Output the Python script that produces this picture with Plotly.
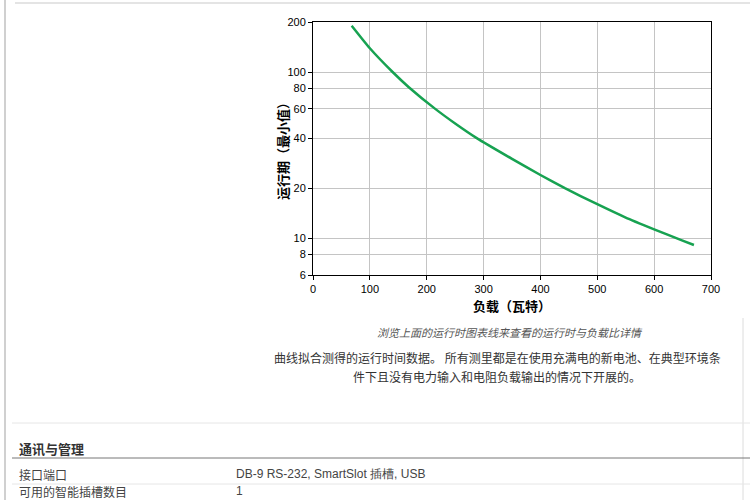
import plotly.graph_objects as go

# ---- data ----
load_w = [68, 100, 140, 168, 215, 250, 288, 350, 400, 443, 500, 550, 600, 650, 670]
runtime_min = [190, 139, 100, 81.3, 60, 49.0, 40, 30, 24.0, 20, 16.0, 13.3, 11.3, 9.66, 9.1]

x_ticks = [0, 100, 200, 300, 400, 500, 600, 700]
y_ticks = [6, 8, 10, 20, 40, 60, 80, 100, 200]

x_title = "负载（瓦特）"
y_title = "运行期（最小值）"
caption = "浏览上面的运行时图表线来查看的运行时与负载比详情"
note_1 = "曲线拟合测得的运行时间数据。 所有测里都是在使用充满电的新电池、在典型环境条"
note_2 = "件下且没有电力输入和电阻负载输出的情况下开展的。"
section_title = "通讯与管理"
rows = [("接口端口", "DB-9 RS-232, SmartSlot 插槽, USB"), ("可用的智能插槽数目", "1")]

# ---- layout geometry (pixels) ----
W, H = 750, 500
L, R, T, B = 313, 711, 22, 275


def px(x):
    return (x - L) / (R - L)


def py(y):
    return (B - y) / (B - T)


CJK = "Noto Sans CJK SC, sans-serif"
NUM = "Liberation Sans, Arial, sans-serif"

fig = go.Figure()
fig.add_trace(go.Scatter(
    x=load_w, y=runtime_min, mode="lines",
    line=dict(color="#17a251", width=2.5, shape="spline", smoothing=0.5),
    hoverinfo="x+y", showlegend=False,
))

axis_common = dict(
    showline=True, linecolor="#000", linewidth=1, mirror=True,
    ticks="outside", ticklen=4, tickcolor="#000",
    showgrid=True, gridcolor="#c4c4c4", gridwidth=1,
    zeroline=False, tickfont=dict(family=NUM, size=11, color="#000"),
)

fig.update_layout(
    width=W, height=H,
    margin=dict(l=L, r=W - R, t=T, b=H - B),
    paper_bgcolor="white", plot_bgcolor="white",
    xaxis=dict(range=[0, 700], tickvals=x_ticks, ticktext=[str(v) for v in x_ticks],
               **axis_common),
    yaxis=dict(type="log", range=[0.7782, 2.30103], tickvals=y_ticks,
               ticktext=[str(v) for v in y_ticks], **axis_common),
)

annotations = []


def text(x, y, s, size=12, color="#333", family=CJK, xanchor="center", textangle=0):
    annotations.append(dict(
        x=px(x), y=py(y), xref="paper", yref="paper", text=s, showarrow=False,
        xanchor=xanchor, yanchor="middle", textangle=textangle,
        font=dict(family=family, size=size, color=color),
    ))


text(512, 305, "<b>" + x_title + "</b>", size=13, color="#000")
text(282, 148, "<b>" + y_title + "</b>", size=13, color="#000", textangle=-90)
text(510, 332, "<i>" + caption + "</i>", size=11, color="#555")
text(497, 358, note_1, size=12, color="#333")
text(497, 376, note_2, size=12, color="#333")
text(17, 448, "<b>" + section_title + "</b>", size=13, color="#333", xanchor="left")
text(17, 474, rows[0][0], size=12, color="#444", xanchor="left")
text(234, 474, rows[0][1], size=12, color="#444", family=NUM, xanchor="left")
text(17, 491, rows[1][0], size=12, color="#444", xanchor="left")
text(234, 491, rows[1][1], size=12, color="#444", family=NUM, xanchor="left")

fig.update_layout(annotations=annotations)

shapes = []


def line(x0, y0, x1, y1, color, width=1):
    shapes.append(dict(type="line", xref="paper", yref="paper",
                       x0=px(x0), y0=py(y0), x1=px(x1), y1=py(y1),
                       line=dict(color=color, width=width), layer="below"))


line(15, 3, 750, 3, "#e4e4e4", 2)
line(5, 0, 5, 500, "#d0d0d0", 2)
line(743, 318, 743, 500, "#dcdcdc", 1)
line(12, 423, 750, 423, "#e6e6e6", 1)
line(12, 458, 750, 458, "#777", 1)
line(12, 484, 750, 484, "#e6e6e6", 1)

fig.update_layout(shapes=shapes)

fig.write_html(
    "out.html",
    config={"displayModeBar": False},
    post_script="document.body.style.margin='0';document.body.style.overflow='hidden';",
)
